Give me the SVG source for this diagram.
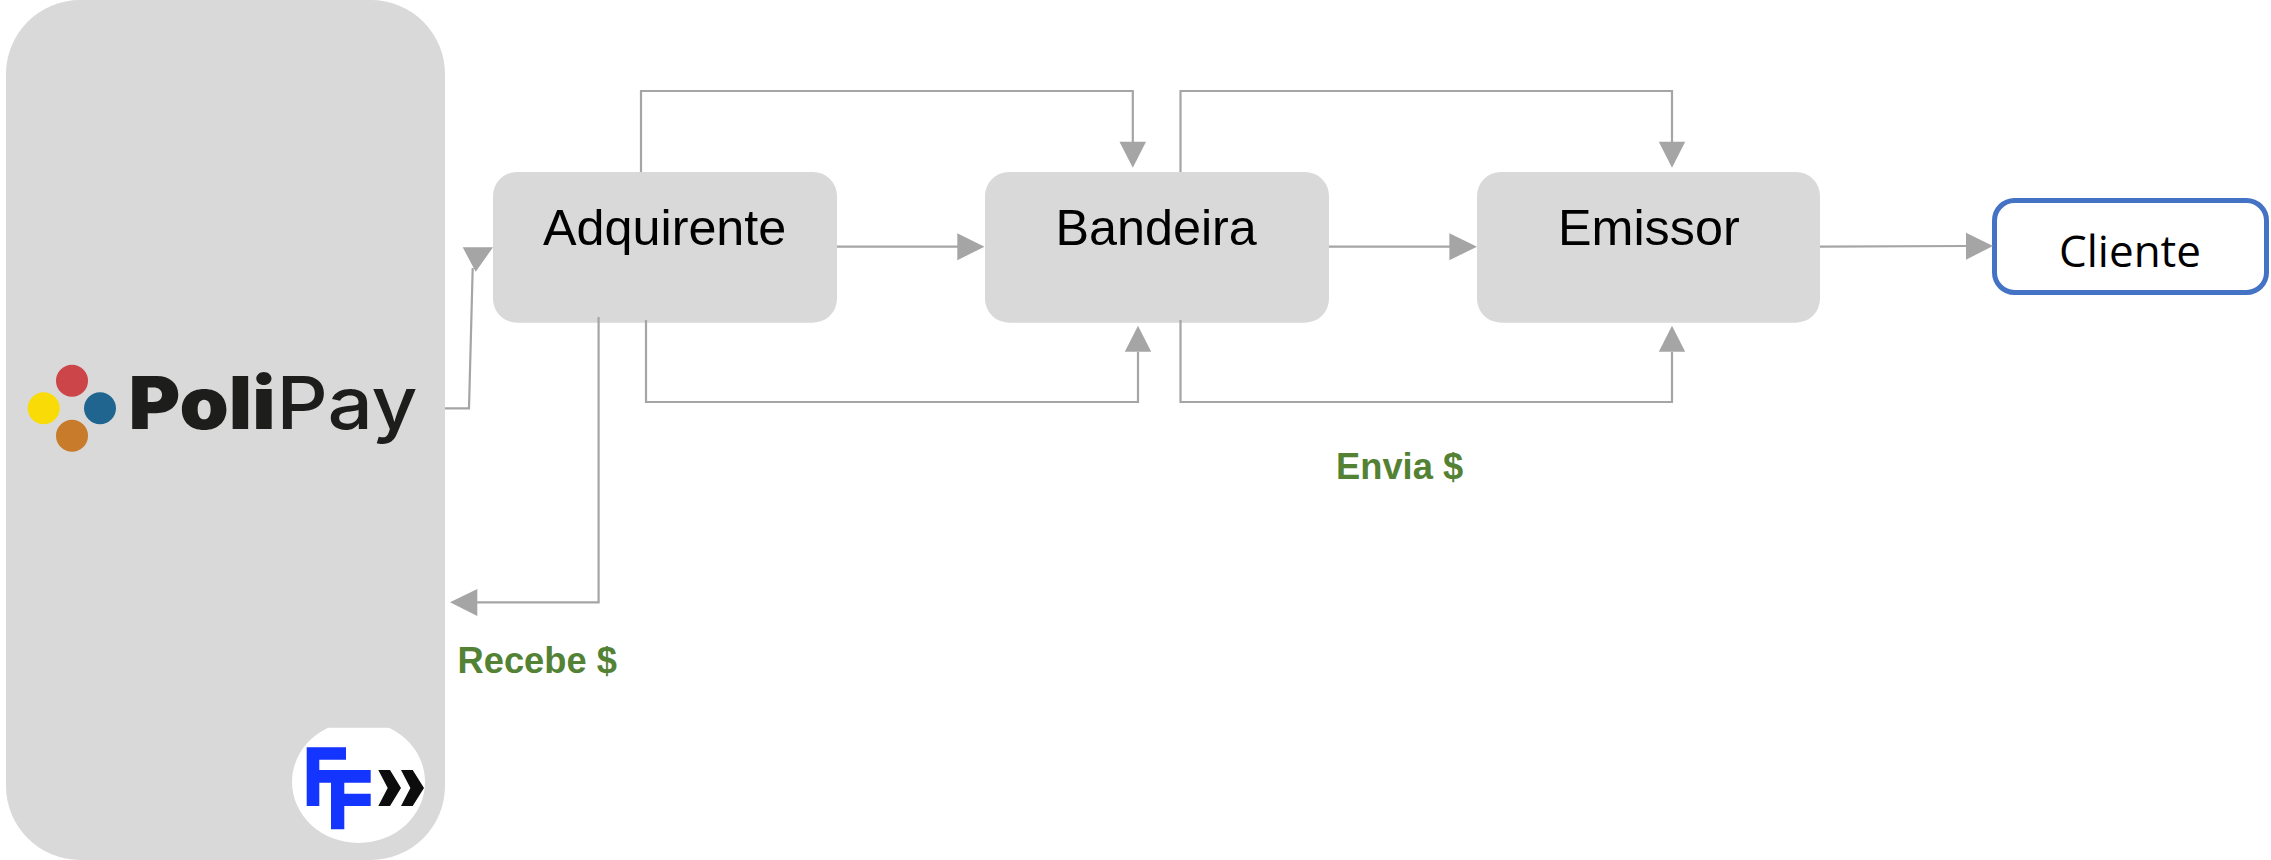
<svg xmlns="http://www.w3.org/2000/svg" width="2271" height="860" viewBox="0 0 2271 860">
<style>
.box{fill:#d9d9d9}
.lbl{font-family:"Liberation Sans",Arial,sans-serif;font-size:50.3px;fill:#000}
.green{font-family:"Liberation Sans",Arial,sans-serif;font-size:36.3px;font-weight:700;fill:#548235}
.c{fill:none;stroke:#a5a5a5;stroke-width:2.2}
.h{fill:#a5a5a5}
</style>
<defs><clipPath id="ffclip"><rect x="280" y="727.7" width="160" height="130"/></clipPath></defs>
<rect width="2271" height="860" fill="#fff"/>
<g id="polipay">
<rect class="box" x="6" y="0" width="439" height="860" rx="74" ry="74"/>
<circle cx="72" cy="380.7" r="16" fill="#cb4549"/>
<circle cx="43.7" cy="408.3" r="16" fill="#f9db07"/>
<circle cx="100" cy="408.3" r="16" fill="#20658f"/>
<circle cx="72" cy="435.7" r="16" fill="#c87b2b"/>
<text x="128.5" y="429.3" font-family="Inter,'Open Sans',sans-serif" font-size="73" font-weight="900" fill="#1d1d1b" textLength="147" lengthAdjust="spacingAndGlyphs">Poli</text>
<text x="276.5" y="429.3" font-family="Inter,'Open Sans',sans-serif" font-size="73" font-weight="500" fill="#1d1d1b" textLength="141" lengthAdjust="spacingAndGlyphs">Pay</text>
<ellipse cx="358.5" cy="782" rx="66.5" ry="61" fill="#fff" clip-path="url(#ffclip)"/>
<path d="M306.7 747.3H346V759.7H319.3V770H370.7V782.7H344.3V793.7H370.7V806H344.3V829.3H331V782.7H319.3V806H306.7Z" fill="#1434ff"/>
<path d="M378.3 770H390L401 788L390 806H378.3L387.7 788ZM401 770H412.7L424 788L412.7 806H401L410.4 788Z" fill="#0d0d0d"/>
</g>
<g id="adquirente"><rect class="box" x="493" y="172" width="344" height="150.7" rx="24"/><text class="lbl" x="543" y="245">Adquirente</text></g>
<g id="bandeira"><rect class="box" x="985" y="172" width="344" height="150.7" rx="24"/><text class="lbl" x="1055.5" y="245">Bandeira</text></g>
<g id="emissor"><rect class="box" x="1477" y="172" width="343" height="150.7" rx="24"/><text class="lbl" x="1558" y="245">Emissor</text></g>
<g id="cliente"><rect x="1994.5" y="200.5" width="272" height="92" rx="20" fill="#fff" stroke="#4472c4" stroke-width="5"/><text x="2059" y="266.7" font-family="'Open Sans',sans-serif" font-size="44" fill="#000">Cliente</text></g>
<g id="connectors">
<path class="c" d="M641 172V91H1132.8V142"/><polygon class="h" points="1119.5,141.7 1146,141.7 1132.8,167.7"/>
<path class="c" d="M646 320V402H1138V352"/><polygon class="h" points="1124.8,351.7 1151.2,351.7 1138,325.7"/>
<path class="c" d="M1180.5 172V91H1672V142"/><polygon class="h" points="1658.8,141.7 1685.2,141.7 1672,167.7"/>
<path class="c" d="M1180.5 320V402H1672V352"/><polygon class="h" points="1658.8,351.7 1685.2,351.7 1672,325.7"/>
<path class="c" d="M837 246.7H958"/><polygon class="h" points="957.3,233.2 957.3,260.2 984.5,246.7"/>
<path class="c" d="M1329 246.7H1450"/><polygon class="h" points="1449.4,233.2 1449.4,260.2 1477,246.7"/>
<path class="c" d="M1820 246.7L1967 246"/><polygon class="h" points="1966,232.7 1966,259.7 1993,246"/>
<path class="c" d="M445 408.3H469L472.7 268"/><polygon class="h" points="462.7,247.3 493,247.3 475.7,271.7"/>
<path class="c" d="M598.6 317V602.3H477"/><polygon class="h" points="477.3,589 477.3,616 450,602.3"/>
</g>
<text class="green" x="457.5" y="673.3">Recebe $</text>
<text class="green" x="1336" y="479.3">Envia $</text>
</svg>
